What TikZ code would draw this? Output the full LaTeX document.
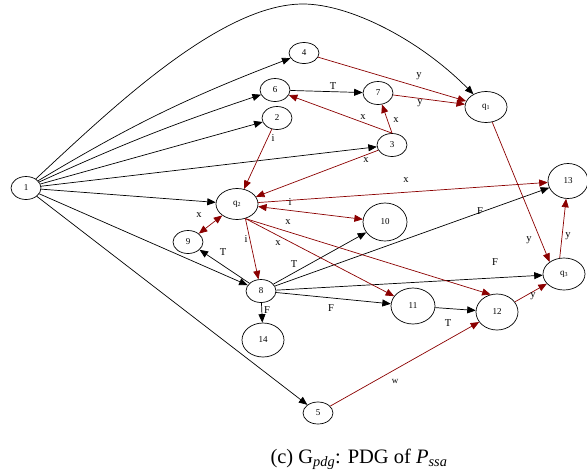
\documentclass[tikz,border=0pt]{standalone}
\usepackage{fontspec}
\setmainfont{Liberation Serif}
\usetikzlibrary{shapes.geometric,arrows.meta}
\definecolor{dep}{RGB}{139,0,0}
\begin{document}
\begin{tikzpicture}[x=1pt,y=-1pt,
  vtx/.style={draw, ellipse, line width=0.7pt, inner sep=0pt,
    font=\fontsize{9}{10}\selectfont},
  sm/.style={vtx, minimum width=30pt, minimum height=23pt},
  lg/.style={vtx, minimum width=42pt, minimum height=31pt},
  tip/.tip={Triangle[length=8.5pt,width=7pt]},
  ctrl/.style={draw=black, line width=0.7pt, -tip},
  data/.style={draw=dep, line width=0.7pt, -tip, color=dep},
  both/.style={data, tip-tip},
  lbl/.style={font=\fontsize{10.5}{12}\selectfont, inner sep=0pt}]
\useasboundingbox (0,0) rectangle (587,475);

% program points
\node[sm] (n1) at (26,188) {1};
\node[sm, minimum height=21pt] (n4) at (304,53) {4};
\node[sm] (n6) at (275,90) {6};
\node[sm] (n2) at (277,118) {2};
\node[sm] (n7) at (378,93) {7};
\node[sm] (n3) at (392,145) {3};
\node[lg] (q1) at (486,107) {q\textsubscript{1}};
\node[lg] (q2) at (237,204) {q\textsubscript{2}};
\node[vtx, minimum width=40pt, minimum height=35pt] (n13) at (568,181) {13};
\node[vtx, minimum width=44pt, minimum height=38pt] (n10) at (385,222) {10};
\node[sm] (n9) at (188,242) {9};
\node[sm] (n8) at (261,291) {8};
\node[vtx, minimum width=42pt, minimum height=34pt] (n14) at (263,340) {14};
\node[vtx, minimum width=44pt, minimum height=36pt] (n11) at (413,306) {11};
\node[vtx, minimum width=42pt, minimum height=36pt] (n12) at (497,312) {12};
\node[lg, minimum height=32pt] (q3) at (564,274) {q\textsubscript{3}};
\node[sm, minimum height=22pt] (n5) at (318,413) {5};

% control dependences
\draw[ctrl] (n1) .. controls (110,110) and (220,4) .. (303,4)
  .. controls (350,4) and (420,40) .. (q1);
\draw[ctrl] (n1) to[bend left=5] (n4);
\draw[ctrl] (n1) to[bend left=3] (n6);
\draw[ctrl] (n1) -- (n2);
\draw[ctrl] (n1) -- (n3);
\draw[ctrl] (n1) -- (q2);
\draw[ctrl] (n1) -- (n8);
\draw[ctrl] (n1) -- (n5);
\draw[ctrl] (n6) -- (n7);
\draw[ctrl] (n8) -- (n9);
\draw[ctrl] (n8) -- (n10);
\draw[ctrl] (n8) -- (n13);
\draw[ctrl] (n8) -- (q3);
\draw[ctrl] (n8) -- (n11);
\draw[ctrl] (n8) -- (n14);
\draw[ctrl] (n11) -- (n12);

% data dependences
\draw[data] (n4) -- (q1);
\draw[data] (n7) -- (q1);
\draw[data] (n3.north) -- (n6);
\draw[data] (n3.north) -- (n7);
\draw[data] (n3) -- (q2);
\draw[data] (n2) -- (q2);
\draw[data] (q2) -- (n13);
\draw[both] (q2) -- (n10);
\draw[both] (q2) -- (n9);
\draw[data] (q2.-60) -- (n8);
\draw[data] (q2.-60) -- (n11);
\draw[data] (q2.-60) -- (n12.110);
\draw[data] (q1) -- (q3.140);
\draw[data] (q3.105) -- (n13);
\draw[data] (n12) -- (q3);
\draw[data] (n5) -- (n12);

% edge labels
\node[lbl] (t67) at (333,86) {T};
\node[lbl] (t89) at (223,252) {T};
\node[lbl] (t810) at (294,264) {T};
\node[lbl] (f813) at (480,211) {F};
\node[lbl] (f8q3) at (495,262) {F};
\node[lbl] (f811) at (331,308) {F};
\node[lbl] (f814) at (267,310) {F};
\node[lbl] (t1112) at (448,323) {T};
\node[lbl] (y4) at (419,76) {y};
\node[lbl] (y7) at (420,103) {y};
\node[lbl] (x36) at (363,117) {x};
\node[lbl] (x37) at (396,120) {x};
\node[lbl] (x3q) at (366,160) {x};
\node[lbl] (i2q) at (273,138) {i};
\node[lbl] (xq13) at (406,180) {x};
\node[lbl] (iq10) at (290,202) {i};
\node[lbl] (xq9) at (199,215) {x};
\node[lbl] (iq8) at (246,239) {i};
\node[lbl] (xq11) at (278,243) {x};
\node[lbl] (xq12) at (288,222) {x};
\node[lbl] (yq1) at (529,240) {y};
\node[lbl] (yq3) at (568,236) {y};
\node[lbl] (y12) at (533,296) {y};
\node[lbl, font=\fontsize{9}{10}\selectfont] (w5) at (395,381) {w};

% caption
\node[anchor=base, inner sep=0pt, font=\fontsize{20.5}{23}\selectfont] (cap) at (359,463)
  {(c) G\textsubscript{\itshape pdg}: PDG of \textit{P}\textsubscript{\itshape ssa}};
\end{tikzpicture}
\end{document}
